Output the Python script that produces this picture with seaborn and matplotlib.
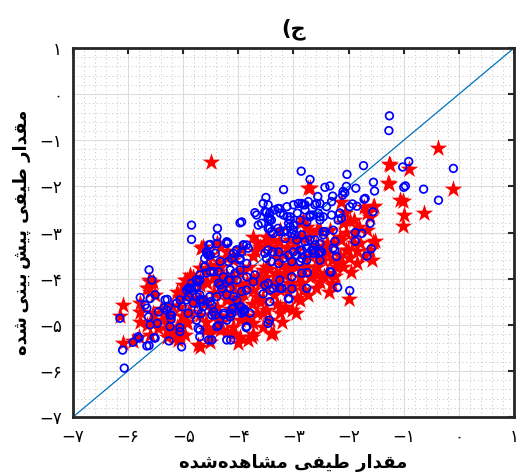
import matplotlib
matplotlib.use("Agg")
import matplotlib.pyplot as plt
from matplotlib.ticker import MultipleLocator, FixedLocator, FuncFormatter
import seaborn as sns
import pandas as pd

# Observed vs. predicted spectral values (log scale units)
blue_pts = [
    (-1.26, -0.47), (-1.27, -0.79), (-0.91, -1.46), (-1.02, -1.58), (-0.10, -1.61),
    (-1.73, -1.55), (-2.03, -1.74), (-2.86, -1.67), (-2.70, -1.85), (-1.55, -1.91),
    (-1.53, -2.10), (-1.87, -2.04), (-1.00, -2.02), (-0.97, -1.99), (-0.64, -2.06),
    (-0.37, -2.30), (-2.43, -2.02), (-2.34, -1.99), (-3.18, -2.07), (-3.50, -2.24),
    (-2.04, -2.00), (-2.10, -2.11), (-1.70, -2.26), (-2.29, -2.21), (-2.56, -2.22),
    (-2.07, -2.14), (-2.11, -2.19), (-2.58, -2.37), (-2.85, -2.37), (-2.79, -2.40),
    (-1.72, -2.28), (-1.93, -2.38), (-1.56, -2.55), (-2.16, -2.58), (-2.19, -2.73),
    (-2.31, -2.62), (-2.52, -2.66), (-2.64, -2.62), (-2.70, -2.66), (-2.76, -2.77),
    (-1.88, -3.00), (-2.28, -2.95), (-2.46, -2.98), (-1.59, -3.35), (-1.67, -3.51),
    (-1.88, -3.19), (-2.28, -3.34), (-2.61, -3.16), (-2.64, -3.38), (-2.52, -3.42),
    (-2.73, -3.45), (-2.85, -3.38), (-2.85, -3.56), (-2.76, -3.60), (-2.52, -3.60),
    (-2.22, -3.52), (-1.61, -2.80), (-1.76, -3.02), (-2.25, -3.19), (-2.25, -3.38),
    (-2.32, -3.86), (-2.20, -4.19), (-1.98, -4.26), (-2.76, -4.21), (-3.08, -4.44),
    (-3.43, -4.50), (-3.44, -4.90), (-3.46, -4.97), (-4.21, -5.33), (-4.14, -5.33),
    (-3.86, -5.06), (-3.79, -4.75), (-3.88, -4.68), (-3.94, -4.62), (-4.12, -4.66),
    (-4.27, -4.75), (-2.75, -3.87), (-2.34, -3.85), (-3.03, -4.22), (-3.21, -4.21),
    (-3.37, -4.21), (-3.55, -4.33), (-3.52, -4.14), (-3.73, -4.07), (-3.70, -3.92),
    (-6.07, -5.94), (-6.10, -5.55), (-6.15, -4.86), (-5.91, -5.38), (-5.80, -5.29),
    (-5.62, -5.45), (-5.53, -5.28), (-5.62, -3.81), (-5.57, -4.03), (-5.78, -4.41),
    (-5.60, -4.43), (-5.51, -4.35), (-5.69, -4.57), (-5.66, -4.64), (-5.63, -4.83),
    (-5.60, -5.00), (-5.45, -4.72), (-5.47, -4.97), (-5.35, -4.64), (-5.33, -4.46),
    (-5.29, -4.45), (-5.21, -4.79), (-5.22, -4.88), (-5.12, -4.53), (-5.06, -5.06),
    (-5.06, -5.15), (-5.26, -5.35), (-5.03, -5.48), (-4.94, -4.46), (-4.91, -4.75),
    (-5.02, -4.61), (-4.91, -4.21), (-4.85, -4.21), (-4.76, -4.20), (-4.73, -4.07),
    (-4.76, -4.03), (-3.28, -2.48), (-3.24, -2.58), (-3.11, -2.66), (-3.09, -2.80),
    (-3.06, -2.66), (-2.93, -2.58), (-3.49, -2.56), (-3.46, -2.71), (-3.40, -2.73),
    (-3.70, -2.57), (-3.67, -2.62), (-3.64, -2.84), (-3.58, -2.80), (-3.94, -2.77),
    (-3.43, -2.91), (-3.40, -2.98), (-3.28, -2.91), (-3.18, -2.98), (-3.13, -2.95),
    (-3.06, -2.87), (-4.38, -2.91), (-4.39, -3.09), (-4.21, -3.20), (-4.58, -3.42),
    (-4.55, -3.49), (-4.61, -3.56), (-3.91, -3.27), (-3.82, -3.34), (-3.94, -3.42),
    (-4.03, -3.38), (-4.09, -3.45), (-4.12, -3.56), (-3.97, -3.56), (-4.85, -2.84),
    (-4.85, -3.15), (-4.19, -3.22), (-4.51, -3.26), (-3.97, -2.79), (-4.70, -5.26),
    (-4.48, -5.33), (-4.73, -5.08), (-4.61, -3.74), (-4.58, -3.88), (-4.70, -4.03),
    (-4.76, -4.17), (-4.45, -3.85), (-4.36, -4.10), (-4.30, -4.21), (-4.15, -4.21),
    (-4.15, -4.03), (-4.21, -4.35), (-4.39, -4.39), (-4.52, -4.39), (-4.64, -4.46),
    (-4.64, -4.61), (-4.48, -4.79), (-4.42, -4.79), (-4.36, -5.01), (-4.27, -4.79),
    (-4.15, -4.83), (-4.09, -4.64), (-3.97, -4.61), (-3.94, -4.75), (-3.91, -4.68),
    (-5.06, -4.46), (-4.82, -4.53), (-4.70, -4.46), (-5.27, -4.61), (-5.30, -4.68),
    (-5.24, -4.79), (-5.82, -5.26), (-5.66, -5.46), (-5.51, -5.29), (-5.24, -5.04),
    (-3.55, -2.37), (-3.46, -2.40), (-3.52, -2.55), (-3.43, -2.58), (-3.34, -2.51),
    (-3.25, -2.48), (-3.12, -2.44), (-3.00, -2.40), (-2.91, -2.37), (-2.82, -2.40),
    (-2.73, -2.33), (-2.61, -2.40), (-2.52, -2.37), (-2.40, -2.44), (-2.31, -2.33),
    (-2.79, -2.51), (-3.18, -2.62), (-3.06, -2.73), (-3.00, -2.84), (-2.88, -2.73),
    (-2.70, -2.62), (-2.55, -2.58), (-2.52, -2.73), (-2.46, -2.66), (-2.16, -2.58),
    (-2.13, -2.69), (-1.98, -2.44), (-1.85, -2.43), (-3.46, -2.66), (-3.43, -2.73),
    (-3.46, -2.91), (-3.37, -3.02), (-3.25, -2.98), (-3.15, -3.13), (-3.03, -3.02),
    (-3.00, -2.95), (-2.97, -3.05), (-2.94, -3.16), (-2.85, -3.05), (-2.79, -3.20),
    (-2.70, -3.16), (-2.61, -3.27), (-2.52, -3.24), (-2.46, -3.05), (-2.43, -2.98),
    (-2.49, -3.42), (-2.55, -3.45), (-2.64, -3.45), (-2.67, -3.38), (-2.76, -3.34),
    (-2.88, -3.38), (-2.94, -3.49), (-3.00, -3.42), (-3.09, -3.49), (-3.18, -3.56),
    (-3.27, -3.42), (-3.37, -3.42), (-3.46, -3.38), (-3.52, -3.45), (-3.49, -3.56),
    (-3.40, -3.63), (-3.27, -3.67), (-3.03, -3.63), (-2.88, -3.63),
    (-2.85, -3.88), (-3.03, -3.96), (-3.25, -4.03), (-3.46, -4.10),
    (-3.43, -4.25), (-3.25, -4.21), (-3.09, -4.43),
    (-4.54, -3.27), (-4.39, -3.24), (-4.21, -3.24), (-4.57, -3.45),
    (-4.51, -3.49), (-4.42, -3.45), (-4.33, -3.63), (-4.18, -3.63), (-4.03, -3.38),
    (-3.91, -3.27), (-3.85, -3.27), (-3.97, -3.60), (-3.85, -3.67), (-3.97, -3.81),
    (-3.85, -3.96), (-4.03, -4.03), (-4.18, -4.03), (-4.27, -3.96), (-4.36, -3.85),
    (-4.51, -3.85), (-4.61, -3.74), (-4.70, -3.92), (-4.76, -4.03), (-4.85, -4.10),
    (-4.88, -4.21), (-4.94, -4.25), (-4.91, -4.39), (-4.76, -4.39), (-4.70, -4.35),
    (-4.67, -4.50), (-4.51, -4.50), (-4.48, -4.57), (-4.45, -4.72), (-4.67, -4.75),
    (-4.73, -4.68), (-4.76, -4.90), (-4.70, -5.11), (-4.54, -5.33), (-4.39, -5.04),
    (-4.21, -4.90), (-4.12, -4.75), (-3.91, -4.72), (-3.85, -5.04), (-4.03, -4.46),
    (-4.09, -4.39), (-3.94, -4.28), (-3.85, -4.25), (-4.33, -4.14),
    (-4.15, -3.81), (-4.06, -3.88),
]

red_pts = [
    (-4.50, -1.48), (-0.37, -1.16), (-1.25, -1.54), (-0.90, -1.63), (-1.27, -1.95),
    (-0.11, -2.05), (-1.02, -2.31), (-0.64, -2.57), (-1.00, -2.62), (-1.02, -2.85),
    (-2.70, -2.04), (-2.13, -2.33), (-1.54, -2.43), (-1.61, -2.66), (-1.67, -2.95),
    (-1.82, -2.87), (-1.52, -3.19), (-1.73, -3.52), (-1.61, -3.38), (-1.58, -3.60),
    (-2.31, -4.10), (-1.99, -4.45), (-2.52, -4.07), (-2.73, -4.35), (-3.03, -4.68),
    (-3.38, -5.17), (-3.55, -4.75), (-3.76, -5.26), (-4.21, -5.15), (-3.73, -4.97),
    (-6.09, -4.57), (-6.15, -4.82), (-6.09, -5.40), (-5.91, -5.35), (-5.80, -5.26),
    (-5.60, -5.22), (-5.60, -4.07), (-5.66, -4.21), (-5.60, -4.28), (-5.78, -4.93),
    (-5.66, -5.01), (-5.54, -4.93), (-5.45, -5.08), (-5.39, -4.90), (-5.30, -4.86),
    (-5.21, -5.15), (-5.30, -5.26), (-5.15, -5.29), (-5.09, -5.33), (-4.97, -5.22),
    (-5.06, -5.04), (-4.94, -4.93), (-4.94, -4.03), (-5.00, -4.14), (-5.12, -4.28),
    (-5.06, -4.43), (-4.91, -4.36), (-4.82, -4.50), (-4.70, -4.43), (-4.58, -4.50),
    (-4.70, -4.79), (-4.58, -4.93), (-4.45, -4.79), (-4.42, -5.08), (-4.33, -4.93),
    (-4.73, -5.44), (-4.51, -5.37), (-4.21, -5.15), (-4.88, -3.92), (-4.70, -3.78),
    (-4.51, -3.70), (-4.36, -3.63), (-4.21, -3.56), (-4.70, -4.14), (-4.58, -4.07),
    (-4.39, -4.07), (-4.27, -3.92), (-4.88, -4.72), (-5.03, -4.82), (-5.78, -4.72),
    (-4.70, -5.48), (-3.40, -5.19), (-3.24, -4.75), (-3.49, -4.68), (-3.97, -4.90),
    (-4.15, -4.82), (-3.61, -4.50), (-3.30, -4.54), (-2.94, -4.43), (-2.82, -4.25),
    (-3.06, -4.10), (-3.24, -4.25), (-3.49, -4.21), (-3.73, -4.25), (-3.97, -4.32),
    (-4.21, -4.46), (-4.09, -3.96), (-3.61, -3.96), (-3.18, -3.92), (-2.88, -3.96),
    (-2.58, -3.92), (-2.40, -3.89), (-3.85, -4.10), (-3.37, -4.07), (-3.15, -4.61),
    (-3.97, -4.61), (-3.67, -4.75), (-2.31, -4.14), (-1.55, -3.20), (-1.79, -3.23),
    (-1.91, -3.23), (-2.04, -3.02), (-2.01, -3.38), (-2.16, -3.52), (-2.10, -3.74),
    (-3.25, -4.61), (-3.43, -4.90), (-2.88, -4.46), (-3.00, -4.17), (-2.70, -3.96),
    (-2.40, -3.88), (-2.22, -3.74), (-2.58, -3.74), (-2.82, -3.81), (-3.06, -3.81),
    (-3.31, -3.88), (-3.55, -3.81), (-3.49, -3.96), (-3.25, -4.17), (-3.55, -4.46),
    (-3.37, -3.16), (-3.12, -3.31), (-2.94, -3.38), (-2.70, -3.52), (-2.40, -3.45),
    (-2.28, -3.23), (-2.34, -2.95), (-2.10, -2.80), (-1.91, -2.73), (-1.67, -2.58),
    (-1.55, -2.44), (-1.73, -2.44), (-3.25, -2.95), (-3.49, -3.09), (-3.61, -3.31),
    (-3.40, -3.31), (-2.82, -3.09), (-2.58, -2.95), (-2.46, -3.31), (-2.13, -3.16),
    (-1.26, -1.51), (-1.28, -1.93), (-2.73, -2.04), (-1.07, -2.29), (-2.07, -2.58),
    (-1.98, -2.76), (-1.91, -3.02), (-2.16, -3.09), (-2.52, -2.94), (-2.76, -2.87),
    (-2.40, -3.23), (-2.04, -3.38), (-1.85, -3.67), (-2.16, -3.67), (-2.46, -3.60),
    (-2.73, -3.09), (-2.88, -2.80), (-4.64, -3.31), (-4.33, -3.31), (-3.73, -3.09),
    (-3.49, -3.20), (-3.27, -3.20), (-3.06, -3.16), (-2.88, -3.09), (-2.70, -2.98),
    (-2.82, -2.73), (-3.73, -3.52), (-4.09, -3.60), (-4.39, -3.74), (-4.57, -3.81),
    (-3.91, -3.81), (-3.49, -3.74), (-3.12, -3.81), (-2.76, -3.74), (-4.21, -3.96),
    (-3.67, -3.96), (-3.25, -3.96), (-4.67, -3.34), (-4.39, -3.23), (-4.52, -3.49),
    (-4.70, -4.03), (-4.94, -4.25), (-4.57, -4.10), (-4.82, -4.03), (-4.76, -4.46),
    (-4.45, -4.32), (-4.21, -4.10), (-4.09, -4.46), (-3.91, -4.32), (-3.73, -4.03),
    (-3.67, -4.39), (-3.85, -4.90), (-4.09, -5.19), (-4.33, -5.11), (-4.51, -5.19),
    (-3.73, -5.19), (-5.06, -5.19), (-5.30, -4.97), (-3.67, -3.23), (-4.09, -3.52),
    (-3.97, -3.88), (-4.33, -3.74), (-5.06, -4.39), (-5.24, -4.82), (-4.64, -3.31),
    (-4.82, -3.96), (-4.97, -4.03), (-5.06, -4.61), (-4.91, -4.75), (-4.58, -5.11),
    (-4.94, -4.97), (-5.12, -5.04), (-5.30, -5.11), (-5.06, -5.26), (-4.39, -4.03),
    (-4.09, -4.17), (-4.21, -4.39), (-3.97, -4.46), (-4.39, -4.61), (-4.33, -4.82),
    (-4.09, -5.04), (-3.85, -4.82), (-3.97, -5.26), (-3.82, -5.33), (-5.63, -4.03),
    (-5.54, -4.07), (-5.63, -4.21), (-5.51, -4.35), (-5.78, -4.53), (-5.54, -4.75),
    (-3.30, -3.55), (-3.05, -3.60), (-2.80, -3.55), (-2.55, -3.55), (-2.30, -3.60),
    (-3.45, -3.80), (-3.20, -3.70), (-2.95, -3.75), (-2.65, -3.85), (-2.45, -3.95),
    (-3.35, -4.35), (-3.10, -4.30), (-2.85, -4.10), (-2.60, -4.20), (-2.35, -4.30),
    (-3.60, -4.10), (-3.80, -3.75), (-3.95, -4.15), (-3.75, -4.55), (-4.45, -3.95),
    (-4.30, -4.30), (-4.50, -4.65), (-4.15, -4.65), (-3.70, -3.40), (-3.95, -3.35),
    (-4.20, -3.40), (-2.00, -3.55), (-2.25, -3.95), (-1.85, -3.40), (-1.95, -3.85),
    (-3.15, -3.45), (-2.60, -3.30), (-2.95, -3.20), (-3.30, -3.35), (-4.00, -5.40),
    (-3.55, -5.05), (-3.20, -4.95), (-2.95, -4.75), (-5.20, -4.60), (-5.40, -4.65),
]

# Reference 1:1 line endpoints
diag = [-7, 1]

# Axis ticks
ticks = [-7, -6, -5, -4, -3, -2, -1, 0, 1]

blue_df = pd.DataFrame(blue_pts, columns=["obs", "pred"])
red_df = pd.DataFrame(red_pts, columns=["obs", "pred"])
diag_df = pd.DataFrame({"obs": diag, "pred": diag})

# Persian text, written in presentation forms in visual (left-to-right) order
W_SHODE = "\uFEE9\uFEAA\uFEB7"
W_MOSHAHEDE = "\uFEE9\uFEAA\uFEEB\uFE8E\uFEB8\uFEE3"
W_TIFI = "\uFEF0\uFED4\uFEF4\uFEC3"
W_MEQDAR = "\uFEAD\uFE8D\uFEAA\uFED8\uFEE3"
W_PISH = "\uFEB6\uFEF4\uFB58"
W_BINI = "\uFEF0\uFEE8\uFEF4\uFE91"

x_label = W_SHODE + W_MOSHAHEDE + " " + W_TIFI + " " + W_MEQDAR
y_label = W_SHODE + "\u2009" + W_BINI + "\u2009" + W_PISH + " " + W_TIFI + " " + W_MEQDAR
title = "(" + "\uFE9D"

PERSIAN_DIGITS = "۰۱۲۳۴۵۶۷۸۹"


def fa_num(v, pos=None):
    n = int(round(v))
    s = "".join(PERSIAN_DIGITS[int(c)] for c in str(abs(n)))
    return ("\u2212" + s) if n < 0 else s


sns.set_style("white")
plt.rcParams["font.family"] = ["DejaVu Sans"]
plt.rcParams["text.color"] = "black"
plt.rcParams["axes.labelcolor"] = "black"

fig = plt.figure(figsize=(5.18, 4.75), dpi=100)
ax = fig.add_axes([0.1409, 0.1221, 0.8514, 0.7768])

sns.lineplot(data=diag_df, x="obs", y="pred", ax=ax, color="#0072BD",
             linewidth=0.9, zorder=2)
sns.scatterplot(data=red_df, x="obs", y="pred", ax=ax, marker="*", s=175,
                color="#FF0000", edgecolor="#FF0000", linewidth=0, zorder=3)
sns.scatterplot(data=blue_df, x="obs", y="pred", ax=ax, marker="o", s=30,
                color="#0000FF", facecolor="none", edgecolor="#0000FF",
                linewidth=1.25, zorder=4)

ax.set_xlim(-7, 1)
ax.set_ylim(-7, 1)
ax.xaxis.set_major_locator(FixedLocator(ticks))
ax.yaxis.set_major_locator(FixedLocator(ticks))
ax.xaxis.set_minor_locator(MultipleLocator(0.2))
ax.yaxis.set_minor_locator(MultipleLocator(0.2))
ax.xaxis.set_major_formatter(FuncFormatter(fa_num))
ax.yaxis.set_major_formatter(FuncFormatter(fa_num))

ax.grid(True, which="major", color="#dcdcdc", linewidth=0.8, linestyle="-", zorder=0)
ax.grid(True, which="minor", color="#c4c4c4", linewidth=0.7, linestyle=(0, (1, 3)), zorder=0)
ax.set_axisbelow(True)

ax.tick_params(which="major", direction="in", length=4, width=1.5,
               top=True, right=True, labelsize=12, pad=8,
               color="#262626", labelcolor="black")
ax.tick_params(which="minor", length=0)
for sp in ax.spines.values():
    sp.set_linewidth(2)
    sp.set_color("#262626")
    sp.set_visible(True)

ax.set_xlabel(x_label, fontsize=13, fontweight="bold", labelpad=6, color="black")
ax.set_ylabel(y_label, fontsize=13, fontweight="bold", labelpad=6, color="black")
ax.set_title(title, fontsize=15, fontweight="bold", pad=10, color="black")

fig.savefig("out.png", dpi=100)
